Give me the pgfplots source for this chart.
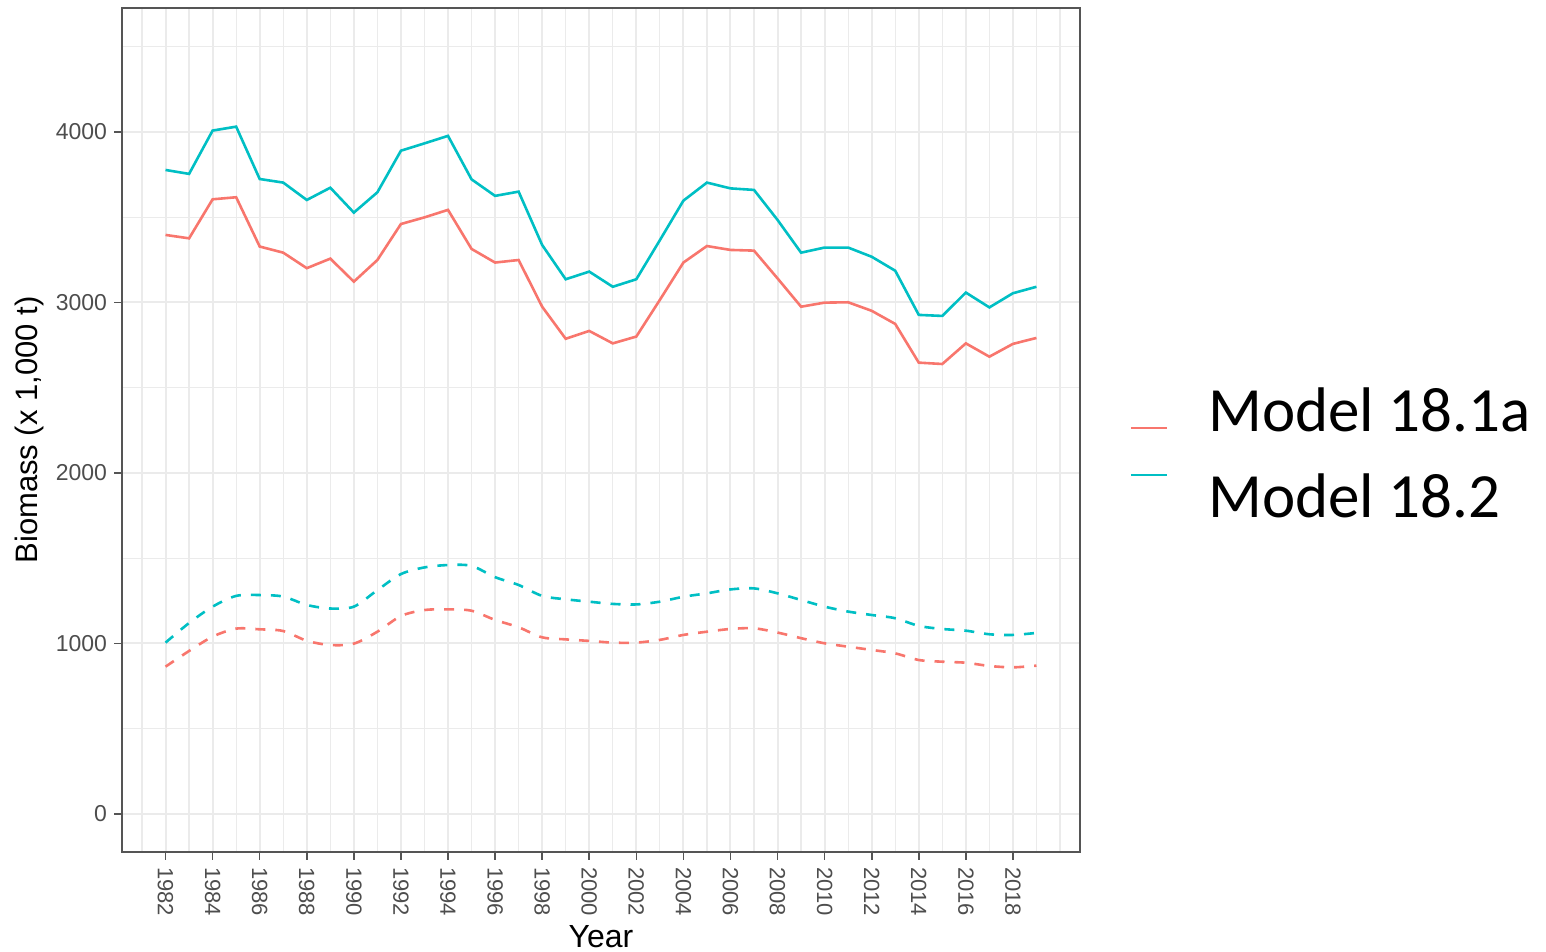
\documentclass[border=0pt]{standalone}
\usepackage{pgfplots}
\pgfplotsset{compat=1.18}
\usepackage{fontspec}
\setmainfont{Liberation Sans}
\newfontfamily\calibri{Carlito}
\definecolor{cred}{HTML}{F8766D}
\definecolor{cteal}{HTML}{00BFC4}
\definecolor{gridc}{HTML}{EBEBEB}
\definecolor{tickc}{HTML}{4D4D4D}
\definecolor{framec}{HTML}{555555}
\begin{document}
\begin{tikzpicture}
\useasboundingbox (-61pt,-50pt) rectangle (712pt,426pt);
\begin{axis}[
  at={(0,0)}, anchor=south west,
  scale only axis, width=479pt, height=422pt,
  xmin=1980.15, xmax=2020.85, ymin=-223, ymax=4727,
  xtick={1982,1984,...,2018}, minor xtick={1981,1983,...,2019,2020},
  ytick={0,1000,...,4000}, minor ytick={500,1500,...,4500},
  xtick pos=bottom, ytick pos=left,
  grid=both,
  major grid style={gridc, line width=1pt},
  minor grid style={gridc, line width=0.6pt},
  axis line style={framec, line width=0.8pt},
  tick align=outside, major tick length=4pt, minor tick length=0pt,
  major tick style={framec, line width=0.8pt},
  /pgf/number format/1000 sep={},
  /pgf/number format/assume math mode=true,
  xticklabel style={rotate=-90, anchor=west, font=\fontsize{11}{12}\selectfont, text=tickc},
  yticklabel style={font=\fontsize{11.5}{12}\selectfont, text=tickc},
  xlabel={Year}, ylabel={Biomass (x 1,000 t)},
  xlabel style={at={(axis description cs:0.5,-0.1137)}, anchor=base, font=\fontsize{16}{18}\selectfont},
  ylabel style={at={(axis description cs:-0.0877,0.5)}, anchor=base, font=\fontsize{15.5}{17}\selectfont},
  legend style={at={(axis description cs:1.0512,0.4745)}, anchor=west, draw=none, fill=none,
    inner sep=0pt, row sep=0pt, nodes={inner sep=0pt}, font=\fontsize{10}{31.5pt}\selectfont},
  legend image code/.code={\draw[#1] (0pt,0pt) -- (18pt,0pt);},
]
\addplot[cred, line width=1.3pt] coordinates {
(1982,3396)(1983,3376)(1984,3605)(1985,3617)(1986,3328)(1987,3292)(1988,3201)(1989,3257)
(1990,3122)(1991,3249)(1992,3460)(1993,3499)(1994,3543)(1995,3314)(1996,3234)(1997,3249)
(1998,2975)(1999,2787)(2000,2833)(2001,2760)(2002,2800)(2003,3015)(2004,3234)(2005,3331)
(2006,3308)(2007,3304)(2008,3141)(2009,2975)(2010,2999)(2011,3001)(2012,2951)(2013,2874)
(2014,2647)(2015,2639)(2016,2760)(2017,2682)(2018,2757)(2019,2792)};
\addlegendentry{\strut}
\addplot[cteal, line width=1.3pt] coordinates {
(1982,3777)(1983,3754)(1984,4008)(1985,4031)(1986,3724)(1987,3703)(1988,3601)(1989,3673)
(1990,3527)(1991,3646)(1992,3890)(1993,3933)(1994,3977)(1995,3722)(1996,3625)(1997,3650)
(1998,3337)(1999,3136)(2000,3181)(2001,3092)(2002,3136)(2003,3365)(2004,3597)(2005,3703)
(2006,3669)(2007,3660)(2008,3484)(2009,3292)(2010,3322)(2011,3322)(2012,3268)(2013,3186)
(2014,2927)(2015,2921)(2016,3058)(2017,2971)(2018,3054)(2019,3092)};
\addlegendentry{\strut}
\addplot[cred, line width=1.3pt, dash pattern=on 5pt off 5pt, smooth, forget plot] coordinates {
(1982,864)(1983,956)(1984,1040)(1985,1087)(1986,1083)(1987,1073)(1988,1016)(1989,991)
(1990,999)(1991,1069)(1992,1161)(1993,1196)(1994,1200)(1995,1192)(1996,1138)(1997,1095)
(1998,1036)(1999,1024)(2000,1015)(2001,1005)(2002,1005)(2003,1021)(2004,1050)(2005,1069)
(2006,1085)(2007,1089)(2008,1064)(2009,1031)(2010,1001)(2011,981)(2012,962)(2013,942)
(2014,903)(2015,893)(2016,887)(2017,868)(2018,860)(2019,870)};
\addplot[cteal, line width=1.3pt, dash pattern=on 5pt off 5pt, smooth, forget plot] coordinates {
(1982,1005)(1983,1120)(1984,1216)(1985,1279)(1986,1284)(1987,1275)(1988,1226)(1989,1205)
(1990,1216)(1991,1313)(1992,1407)(1993,1446)(1994,1460)(1995,1455)(1996,1389)(1997,1343)
(1998,1279)(1999,1259)(2000,1245)(2001,1232)(2002,1229)(2003,1245)(2004,1274)(2005,1294)
(2006,1317)(2007,1323)(2008,1294)(2009,1255)(2010,1216)(2011,1187)(2012,1167)(2013,1148)
(2014,1103)(2015,1085)(2016,1075)(2017,1054)(2018,1050)(2019,1062)};
\end{axis}
\node[anchor=base west, inner sep=0pt, font=\calibri\fontsize{31.5}{36}\selectfont] at (543pt,210pt) {Model 18.1a};
\node[anchor=base west, inner sep=0pt, font=\calibri\fontsize{31.5}{36}\selectfont] at (543pt,167pt) {Model 18.2};
\end{tikzpicture}
\end{document}
